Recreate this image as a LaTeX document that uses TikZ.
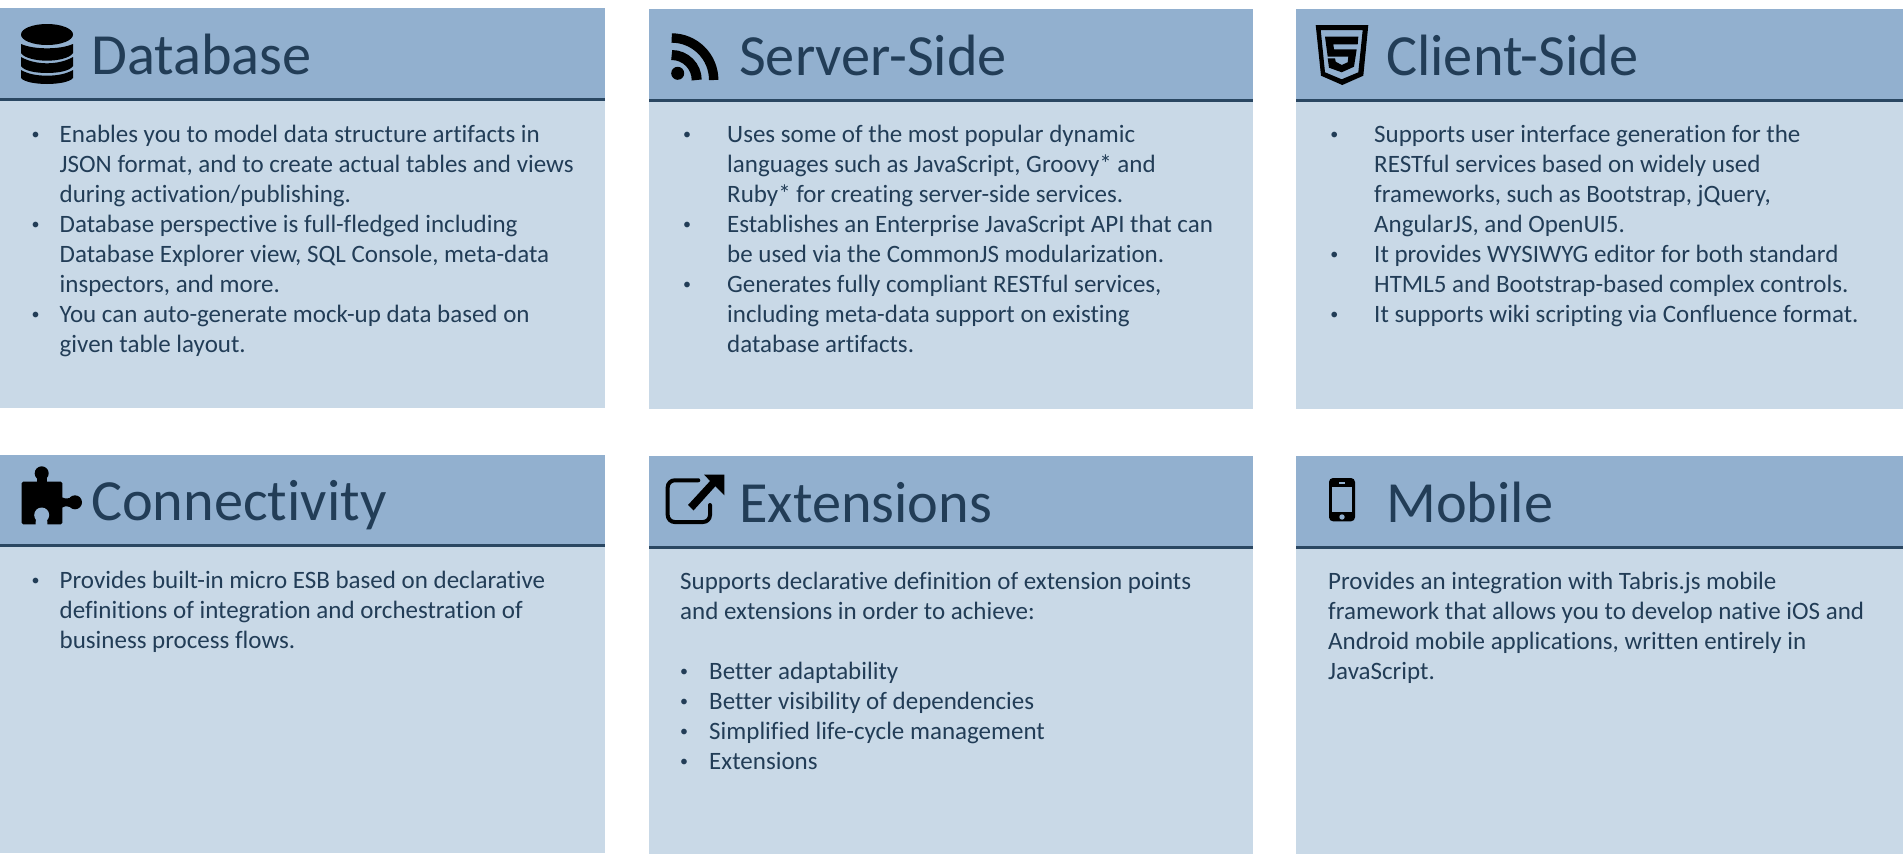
\documentclass[tikz,border=0pt]{standalone}
\usepackage{fontspec}
\setmainfont{Carlito}[RawFeature={-liga,-clig}]
\definecolor{hdr}{HTML}{92B0CF}
\definecolor{bdy}{HTML}{C9D9E7}
\definecolor{rulec}{HTML}{2A4762}
\definecolor{ink}{HTML}{223D57}
\tikzset{
  titletext/.style={anchor=base west,inner sep=0pt,text=ink,font=\fontsize{58.3}{60}\selectfont},
  bodytext/.style={anchor=north west,inner sep=0pt,text=ink,align=left,font=\fontsize{25}{30}\selectfont},
  icon/.style={fill=black,draw=none},
  hole/.style={fill=hdr,draw=none}
}
\newcommand{\bl}[1]{\leavevmode\llap{\raisebox{2.6pt}{\fontsize{16}{16}\selectfont •}\hspace{#1}}}
% x0, y0, x1, yrule, y1
\newcommand{\panelbox}[5]{%
  \fill[bdy] (#1,#2) rectangle (#3,#5);
  \fill[hdr] (#1,#2) rectangle (#3,#4);
  \fill[rulec] (#1,#4) rectangle (#3,#4+2.8);
}
\begin{document}
\begin{tikzpicture}[x=1pt,y=-1pt]
\useasboundingbox (0,0) rectangle (1903,854);
\fill[white] (0,0) rectangle (1903,854);
\panelbox{0}{8}{605}{98}{408}
\panelbox{649}{9}{1253}{99}{409}
\panelbox{1296}{9}{1903}{99}{409}
\panelbox{0}{455}{605}{544}{853}
\panelbox{649}{456}{1253}{546}{854}
\panelbox{1296}{456}{1903}{546}{854}

% titles
\node[titletext] (t1) at (91,74) {Database};
\node[titletext] (t2) at (739,75) {Server-Side};
\node[titletext] (t3) at (1386,75) {Client-Side};
\node[titletext] (t4) at (91,520) {Connectivity};
\node[titletext] (t5) at (739,522) {Extensions};
\node[titletext] (t6) at (1386,522) {Mobile};

% bodies
\node[bodytext] (b1) at (59.5,125) {\bl{20pt}Enables you to model data structure artifacts in\\
JSON format, and to create actual tables and views\\
during activation/publishing.\\
\bl{20pt}Database perspective is full-fledged including\\
Database Explorer view, SQL Console, meta-data\\
inspectors, and more.\\
\bl{20pt}You can auto-generate mock-up data based on\\
given table layout.};
\node[bodytext] (b2) at (727,125) {\bl{36pt}Uses some of the most popular dynamic\\
languages such as JavaScript, Groovy* and\\
Ruby* for creating server-side services.\\
\bl{36pt}Establishes an Enterprise JavaScript API that can\\
be used via the CommonJS modularization.\\
\bl{36pt}Generates fully compliant RESTful services,\\
including meta-data support on existing\\
database artifacts.};
\node[bodytext] (b3) at (1374,125) {\bl{36pt}Supports user interface generation for the\\
RESTful services based on widely used\\
frameworks, such as Bootstrap, jQuery,\\
AngularJS, and OpenUI5.\\
\bl{36pt}It provides WYSIWYG editor for both standard\\
HTML5 and Bootstrap-based complex controls.\\
\bl{36pt}It supports wiki scripting via Confluence format.};
\node[bodytext] (b4) at (59.5,571) {\bl{20pt}Provides built-in micro ESB based on declarative\\
definitions of integration and orchestration of\\
business process flows.};
\node[bodytext] (b5a) at (680,572) {Supports declarative definition of extension points\\
and extensions in order to achieve:};
\node[bodytext] (b5b) at (709,662) {\bl{21pt}Better adaptability\\
\bl{21pt}Better visibility of dependencies\\
\bl{21pt}Simplified life-cycle management\\
\bl{21pt}Extensions};
\node[bodytext] (b6) at (1328,572) {Provides an integration with Tabris.js mobile\\
framework that allows you to develop native iOS and\\
Android mobile applications, written entirely in\\
JavaScript.};

% database icon
\fill[icon] (21,34.5) .. controls (21,28.5) and (33,24) .. (47,24) .. controls (61,24) and (73,28.5) .. (73,34.5) .. controls (73,40.5) and (61,45) .. (47,45) .. controls (33,45) and (21,40.5) .. (21,34.5) -- cycle;
\fill[icon] (21,44) .. controls (28,47) and (37,48.3) .. (47,48.3) .. controls (57,48.3) and (66,47) .. (73,44) -- (73,53) .. controls (70,58) and (58,60.7) .. (47,60.7) .. controls (36,60.7) and (24,58) .. (21,53) -- cycle;
\fill[icon] (21,57) .. controls (28,61) and (37,63.3) .. (47,63.3) .. controls (57,63.3) and (66,61) .. (73,57) -- (73,66) .. controls (70,71) and (58,73) .. (47,73) .. controls (36,73) and (24,71) .. (21,66) -- cycle;
\fill[icon] (21,70) .. controls (28,74) and (37,75.7) .. (47,75.7) .. controls (57,75.7) and (66,74) .. (73,70) -- (73,78) .. controls (70,82) and (58,84) .. (47,84) .. controls (36,84) and (24,82) .. (21,78) -- cycle;

% rss icon
\fill[icon] (677.7,73.3) circle[radius=6.5];
\draw[line width=10pt,black] (671.7,55) .. controls (685.5,55) and (696.7,66.2) .. (696.7,80);
\draw[line width=9.4pt,black] (671.7,38) .. controls (694.9,38) and (713.7,56.8) .. (713.7,80);

% html5 icon
\fill[icon,even odd rule] (1315.7,25) -- (1368.3,25) -- (1363.3,75.7) -- (1342.3,85) -- (1321,75.7) -- cycle
  (1320.7,30) -- (1362.7,30) -- (1358.3,72.3) -- (1341.7,79.3) -- (1325,72.3) -- cycle;
\fill[icon] (1325,36.7) -- (1358.3,36.7) -- (1357.7,44.3) -- (1333.3,44.3) -- (1334,49.3) -- (1356.7,49.3) -- (1354,66.7) -- (1341.7,72.3) -- (1329,67.7) -- (1327.7,58.3) -- (1335,58.3) -- (1335.7,61.7) -- (1341.7,65) -- (1347.7,62.3) -- (1348.3,56.7) -- (1327.7,56.7) -- cycle;

% puzzle icon
\fill[icon,rounded corners=1.5pt] (21.7,481.7) rectangle (62.3,524.3);
\fill[icon] (41.7,473.3) circle[radius=7];
\fill[icon] (37,477) rectangle (46.5,483);
\fill[icon] (75,502.3) circle[radius=7];
\fill[icon] (61,497) .. controls (64,499) and (66,498.5) .. (70,498) -- (70,507) .. controls (66,506) and (64,506) .. (61,508) -- cycle;
\fill[hole] (41.7,515) circle[radius=7.5];
\fill[hole] (36,518) -- (47,518) -- (47.5,525) -- (35.5,525) -- cycle;

% external link icon
\draw[line width=4pt,black,line cap=round,rounded corners=7pt] (698.3,480.3) -- (667.7,480.3) -- (667.7,522) -- (710,522) -- (710,505);
\fill[icon] (688,505) -- (711,480) -- (716.5,485) -- (693.5,510.5) -- cycle;
\fill[icon] (704,474.7) -- (724.3,474.7) -- (724.3,495.3) -- cycle;

% mobile icon
\fill[icon,rounded corners=4pt] (1329,478) rectangle (1355,521.3);
\fill[hole] (1332.3,487) rectangle (1351.7,512);
\fill[hole] (1342,517) circle[radius=2.7];
\fill[hole] (1339,482.4) rectangle (1345,483.6);
\end{tikzpicture}
\end{document}
